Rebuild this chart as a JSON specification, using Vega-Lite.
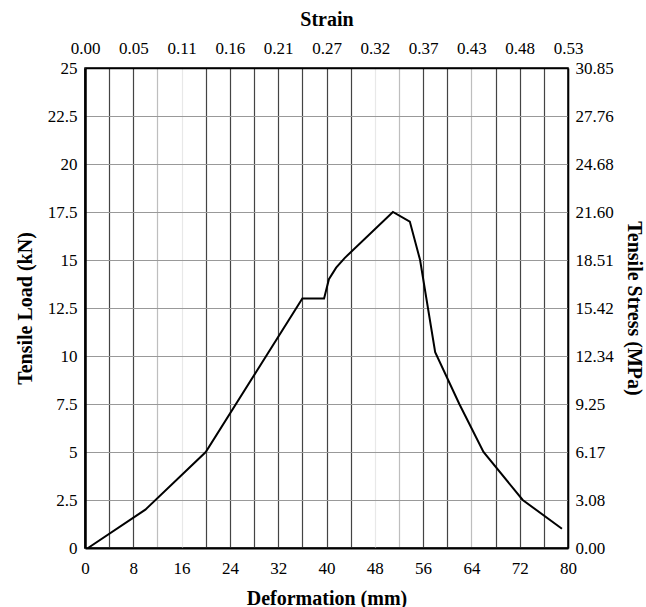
{
  "$schema": "https://vega.github.io/schema/vega-lite/v6.json",
  "width": 483,
  "height": 480,
  "autosize": "none",
  "padding": {"left": 85, "top": 68, "right": 78, "bottom": 59},
  "background": "white",
  "config": {
    "view": {"stroke": "black", "strokeWidth": 1.5},
    "axis": {
      "labelFont": "Liberation Serif",
      "labelFontSize": 17,
      "labelColor": "black",
      "labelOverlap": false,
      "labelFlush": false,
      "titleFont": "Liberation Serif",
      "titleFontSize": 20,
      "titleFontWeight": "bold",
      "titleColor": "black",
      "ticks": false
    }
  },
  "data": {
    "values": [
      {"d": 0.5, "load": 0},
      {"d": 10, "load": 2},
      {"d": 20, "load": 5},
      {"d": 36, "load": 13},
      {"d": 39.6, "load": 13},
      {"d": 40.4, "load": 14},
      {"d": 41.6, "load": 14.6},
      {"d": 43, "load": 15.1},
      {"d": 51, "load": 17.5},
      {"d": 53.8, "load": 17},
      {"d": 55.5, "load": 15},
      {"d": 58, "load": 10.2},
      {"d": 62, "load": 7.5},
      {"d": 66, "load": 5},
      {"d": 72.5, "load": 2.5},
      {"d": 79, "load": 1}
    ]
  },
  "layer": [
    {
      "mark": {"type": "line", "color": "black", "strokeWidth": 2},
      "encoding": {
        "x": {
          "field": "d", "type": "quantitative",
          "scale": {"domain": [0, 80], "nice": false, "zero": false},
          "axis": {
            "orient": "bottom",
            "title": "Deformation (mm)",
            "values": [0,4,8,12,16,20,24,28,32,36,40,44,48,52,56,60,64,68,72,76,80],
            "labelExpr": "datum.value % 8 == 0 ? datum.label : ''",
            "labelPadding": 12,
            "titlePadding": 12,
            "domainColor": "black",
            "domainWidth": 2,
            "grid": true,
            "gridColor": {"condition": {"test": "datum.value == 16 || datum.value == 48", "value": "#e8e8e8"}, "value": "#444"},
            "gridOpacity": {"condition": {"test": "datum.value == 12 || datum.value == 52 || datum.value == 64", "value": 0.35}, "value": 1},
            "gridWidth": 1.2
          }
        },
        "y": {
          "field": "load", "type": "quantitative",
          "scale": {"domain": [0, 25], "nice": false},
          "axis": {
            "orient": "left",
            "title": "Tensile Load (kN)",
            "values": [0,2.5,5,7.5,10,12.5,15,17.5,20,22.5,25],
            "format": ".1~f",
            "labelPadding": 8,
            "titlePadding": 12,
            "domainColor": "black",
            "domainWidth": 2.5,
            "grid": true,
            "gridColor": "#999",
            "gridWidth": 1
          }
        }
      }
    },
    {
      "mark": {"type": "line", "strokeOpacity": 0},
      "encoding": {
        "x": {
          "field": "d", "type": "quantitative",
          "scale": {"domain": [0, 80], "nice": false, "zero": false},
          "axis": {
            "orient": "top",
            "title": "Strain",
            "values": [0,8,16,24,32,40,48,56,64,72,80],
            "labelExpr": "format(datum.value / 150, '.2f')",
            "labelPadding": 11,
            "titlePadding": 10,
            "domainColor": "black",
            "domainWidth": 1.5,
            "grid": false
          }
        },
        "y": {
          "field": "load", "type": "quantitative",
          "scale": {"domain": [0, 25], "nice": false},
          "axis": {
            "orient": "right",
            "title": "Tensile Stress (MPa)",
            "values": [0,2.5,5,7.5,10,12.5,15,17.5,20,22.5,25],
            "labelExpr": "['0.00','3.08','6.17','9.25','12.34','15.42','18.51','21.60','24.68','27.76','30.85'][round(datum.value / 2.5)]",
            "labelPadding": 7,
            "titlePadding": 10,
            "domainColor": "black",
            "domainWidth": 1.5,
            "grid": false
          }
        }
      }
    }
  ],
  "resolve": {"axis": {"x": "independent", "y": "independent"}}
}
